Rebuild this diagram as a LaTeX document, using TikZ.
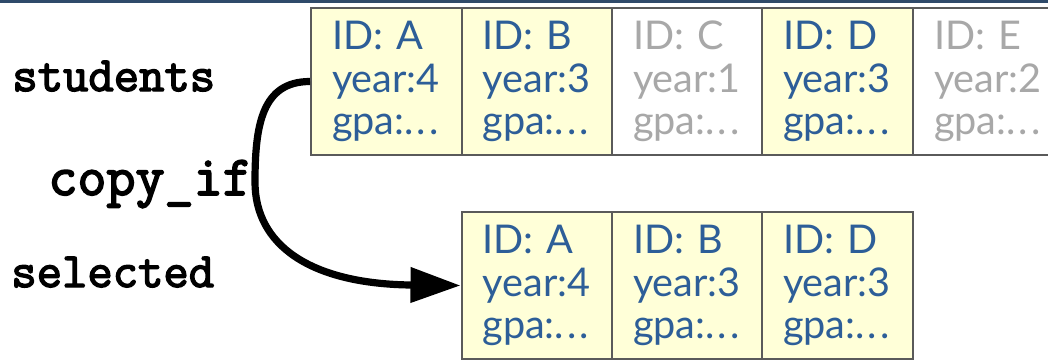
\documentclass[tikz,border=0pt]{standalone}
\usepackage{fontspec}
\usetikzlibrary{arrows.meta}
\newfontfamily\latofont{Lato}
\newfontfamily\codefont[FakeBold=3]{Latin Modern Mono}
\definecolor{rulenavy}{HTML}{2F4A6A}
\definecolor{cellfill}{HTML}{FFFFD8}
\definecolor{celledge}{HTML}{5A5A5A}
\definecolor{keptblue}{HTML}{2D5E98}
\definecolor{dropgray}{HTML}{A8A8A8}
\newcommand{\gpadots}{gpa:.\kern1.6pt.\kern1.6pt.}
\tikzset{
  cell/.style={draw=celledge, line width=1pt, anchor=north west,
    minimum width=75.25pt, minimum height=73.5pt, inner xsep=10.5pt, inner ysep=0pt,
    text width=54.25pt, align=left,
    font=\latofont\fontsize{19.8pt}{21.3pt}\selectfont},
  kept/.style={cell, fill=cellfill, text=keptblue},
  dropped/.style={cell, fill=white, text=dropgray},
  codelabel/.style={anchor=base west, inner sep=0pt, font=\codefont\fontsize{24.6pt}{26pt}\selectfont},
  flow/.style={line width=3.6pt, -{Triangle[length=25pt,width=17pt]}}
}
\begin{document}
\begin{tikzpicture}[x=0.5pt, y=-0.5pt]
\useasboundingbox (0,0) rectangle (1048,359);
% header rule
\fill[rulenavy] (0,0) rectangle (1048,2.5);

% input sequence
\node[kept]    (inA) at (310,7)   {ID: A\\year:4\\\gpadots};
\node[kept]    (inB) at (460.5,7) {ID: B\\year:3\\\gpadots};
\node[dropped] (inC) at (611,7)   {ID: C\\year:1\\\gpadots};
\node[kept]    (inD) at (761,7)   {ID: D\\year:3\\\gpadots};
\node[dropped] (inE) at (912,7)   {ID: E\\year:2\\\gpadots};

% output sequence
\node[kept] (outA) at (460.5,211) {ID: A\\year:4\\\gpadots};
\node[kept] (outB) at (611,211)   {ID: B\\year:3\\\gpadots};
\node[kept] (outD) at (761,211)   {ID: D\\year:3\\\gpadots};

% labels
\node[codelabel] (lstud) at (12,91)  {students};
\node[codelabel, font=\codefont\fontsize{28.2pt}{30pt}\selectfont] (lcopy) at (48,195) {copy\_if};
\node[codelabel] (lsel)  at (11,287) {selected};

% copy_if arrow
\coordinate (bend) at (255,182);
\draw[flow] (inA.west) .. controls +(-48,0) and (255,125) .. (bend)
  .. controls (255,245) and (310,284) .. (outA.west);
\end{tikzpicture}
\end{document}
